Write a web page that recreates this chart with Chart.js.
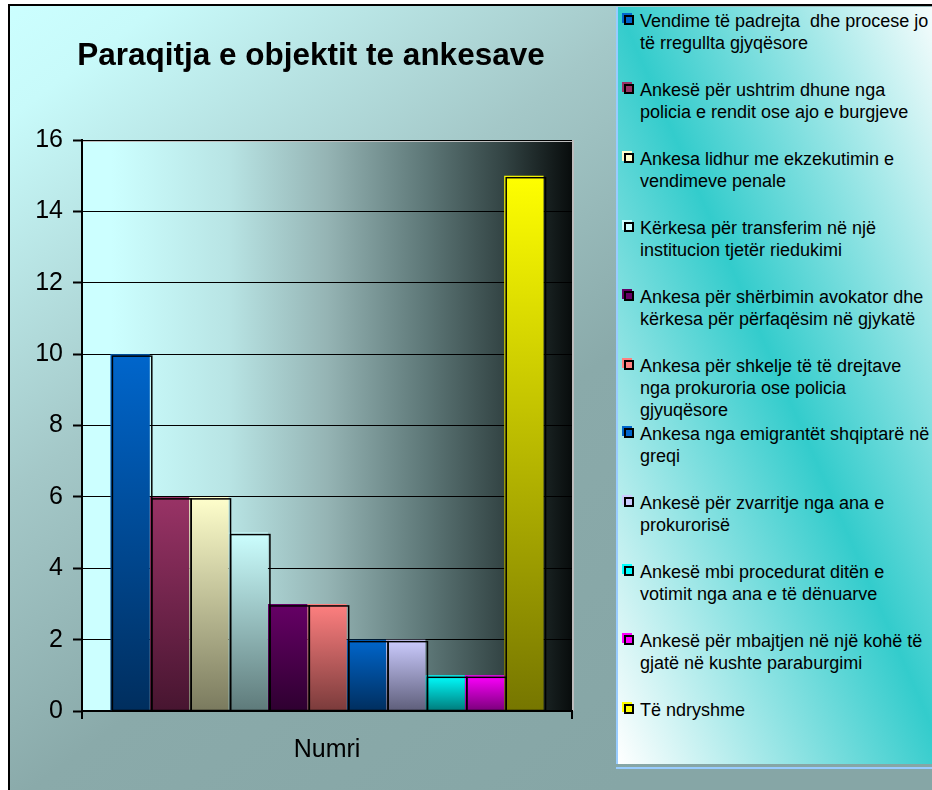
<!DOCTYPE html>
<html>
<head>
<meta charset="utf-8">
<title>Paraqitja e objektit te ankesave</title>
<script src="https://cdn.jsdelivr.net/npm/chart.js@4.4.1/dist/chart.umd.min.js"></script>
<style>
  html, body { margin: 0; padding: 0; background: #fff; overflow: hidden; }
  #wrap { position: relative; width: 932px; height: 790px; overflow: hidden; }
  #chart { position: absolute; left: 0; top: 0; }
  #legend {
    position: absolute; left: 616px; top: 7px; width: 330px; height: 757px;
    border-left: 2px solid #99ccff;
    background: linear-gradient(to top right, #ffffff 0%, #33cccc 50%, #ffffff 100%);
    font-family: "Liberation Sans", Arial, sans-serif; font-size: 18px; color: #000;
  }
  #legendLine { position: absolute; left: 616px; top: 767px; width: 330px; height: 2px; background: #99ccff; }
  .item { position: absolute; left: 22px; line-height: 22px; white-space: pre; }
  .mark { position: absolute; left: -18px; top: 3px; width: 10px; height: 10px; }
  .mark span { position: absolute; left: 2px; top: 2px; width: 6px; height: 6px; border: 2px solid #000; }
</style>
</head>
<body>
<div id="wrap">
  <canvas id="chart" width="932" height="790"></canvas>
  <div id="legend"></div>
  <div id="legendLine"></div>
</div>
<script>
// data
const categories = ['Numri'];
const seriesLabels = [
  'Vendime të padrejta  dhe procese jo\ntë rregullta gjyqësore',
  'Ankesë për ushtrim dhune nga\npolicia e rendit ose ajo e burgjeve',
  'Ankesa lidhur me ekzekutimin e\nvendimeve penale',
  'Kërkesa për transferim në një\ninstitucion tjetër riedukimi',
  'Ankesa për shërbimin avokator dhe\nkërkesa për përfaqësim në gjykatë',
  'Ankesa për shkelje të të drejtave\nnga prokuroria ose policia\ngjyuqësore',
  'Ankesa nga emigrantët shqiptarë në\ngreqi',
  'Ankesë për zvarritje nga ana e\nprokurorisë',
  'Ankesë mbi procedurat ditën e\nvotimit nga ana e të dënuarve',
  'Ankesë për mbajtjen në një kohë të\ngjatë në kushte paraburgimi',
  'Të ndryshme'
];
const seriesValues = [10, 6, 6, 5, 3, 3, 2, 2, 1, 1, 15];
const yTicks = [0, 2, 4, 6, 8, 10, 12, 14, 16];
const titleText = 'Paraqitja e objektit te ankesave';

// bar colours, top of bar -> bottom of bar
const topColors = ['#0066cc', '#993366', '#ffffcc', '#ccffff', '#660066', '#ff8080',
                   '#0066cc', '#ccccff', '#00ffff', '#ff00ff', '#ffff00'];
const bottomColors = ['#002e5e', '#471530', '#7a7a5e', '#5e7a7a', '#2e0030', '#7a3b3b',
                      '#002e5e', '#5e5e7a', '#007a7a', '#7a007a', '#767600'];

const FONT = '"Liberation Sans", Arial, sans-serif';

function barFill(ctx) {
  const chart = ctx.chart;
  const i = ctx.datasetIndex;
  if (!chart.chartArea || !chart.scales.y) return topColors[i];
  const y = chart.scales.y;
  const top = y.getPixelForValue(ctx.raw);
  const bottom = y.getPixelForValue(0);
  const g = chart.ctx.createLinearGradient(0, top, 0, bottom);
  g.addColorStop(0, topColors[i]);
  g.addColorStop(1, bottomColors[i]);
  return g;
}

const framePlugin = {
  id: 'frame',
  beforeDraw(chart) {
    const c = chart.ctx;
    const a = chart.chartArea;
    c.save();
    c.fillStyle = '#fff';
    c.fillRect(0, 0, chart.width, chart.height);
    const bg = c.createLinearGradient(0, 0, 600, 800);
    bg.addColorStop(0, '#ccffff');
    bg.addColorStop(0.1, '#c8fafa');
    bg.addColorStop(0.4, '#a4c8c8');
    bg.addColorStop(0.65, '#8aaaaa');
    bg.addColorStop(1, '#86a6a6');
    c.fillStyle = bg;
    c.fillRect(9, 5, chart.width, chart.height);
    c.strokeStyle = '#000';
    c.lineWidth = 2;
    c.beginPath();
    c.moveTo(9, chart.height);
    c.lineTo(9, 5);
    c.lineTo(chart.width, 5);
    c.stroke();

    // plot area
    const pg = c.createLinearGradient(a.left, 0, a.right, 0);
    pg.addColorStop(0, '#ccffff');
    pg.addColorStop(0.06, '#ccffff');
    pg.addColorStop(0.3, '#b8e4e4');
    pg.addColorStop(0.5, '#95b4b4');
    pg.addColorStop(0.7, '#5e7878');
    pg.addColorStop(0.86, '#334444');
    pg.addColorStop(1, '#080c0c');
    c.fillStyle = pg;
    c.fillRect(a.left, a.top, a.right - a.left, a.bottom - a.top);
    c.strokeStyle = '#bdbdbd';
    c.lineWidth = 2;
    c.beginPath();
    c.moveTo(a.left, a.top + 1);
    c.lineTo(a.right + 1, a.top + 1);
    c.lineTo(a.right + 1, a.bottom);
    c.stroke();

    c.fillStyle = '#000';
    c.font = 'bold 31.5px ' + FONT;
    c.textAlign = 'center';
    c.textBaseline = 'alphabetic';
    c.fillText(titleText, 311, 65);
    c.restore();
  },
  afterDatasetsDraw(chart) {
    const c = chart.ctx;
    c.save();
    c.strokeStyle = '#000';
    c.lineWidth = 1.5;
    chart.getSortedVisibleDatasetMetas().forEach(meta => {
      meta.data.forEach(el => {
        const p = el.getProps(['x', 'y', 'base', 'width'], true);
        c.strokeRect(p.x - p.width / 2 + 2, p.y + 2, p.width, p.base - p.y - 2);
      });
    });
    c.restore();
  }
};

const htmlLegend = {
  id: 'htmlLegend',
  afterUpdate(chart) {
    const box = document.getElementById('legend');
    box.innerHTML = '';
    chart.data.datasets.forEach((ds, i) => {
      const item = document.createElement('div');
      item.className = 'item';
      item.style.top = (3 + i * 68.9) + 'px';
      item.textContent = ds.label;
      const mark = document.createElement('div');
      mark.className = 'mark';
      mark.style.background = topColors[i];
      mark.appendChild(document.createElement('span'));
      item.appendChild(mark);
      box.appendChild(item);
    });
  }
};

new Chart(document.getElementById('chart'), {
  type: 'bar',
  data: {
    labels: categories,
    datasets: seriesLabels.map((label, i) => ({
      label,
      data: [seriesValues[i]],
      backgroundColor: barFill,
      borderWidth: 0,
      categoryPercentage: 0.884,
      barPercentage: 1
    }))
  },
  options: {
    responsive: false,
    animation: false,
    layout: { padding: { left: 0, top: 140, right: 360, bottom: 0 } },
    plugins: {
      legend: { display: false },
      title: { display: false },
      tooltip: { enabled: false }
    },
    scales: {
      x: {
        grid: { offset: true, drawOnChartArea: false, color: '#000', lineWidth: 2, tickLength: 8 },
        border: { color: '#000', width: 2 },
        ticks: { color: '#000', font: { family: FONT, size: 25 }, padding: 16 },
        afterFit(s) { s.height = 79; }
      },
      y: {
        min: yTicks[0],
        max: yTicks[yTicks.length - 1],
        ticks: { stepSize: yTicks[1] - yTicks[0], color: '#000', font: { family: FONT, size: 25 }, padding: 10 },
        grid: { color: '#000', lineWidth: 1, tickLength: 9, tickWidth: 2 },
        border: { color: '#000', width: 2 },
        afterFit(s) { s.width = 82; }
      }
    }
  },
  plugins: [framePlugin, htmlLegend]
});
</script>
</body>
</html>
